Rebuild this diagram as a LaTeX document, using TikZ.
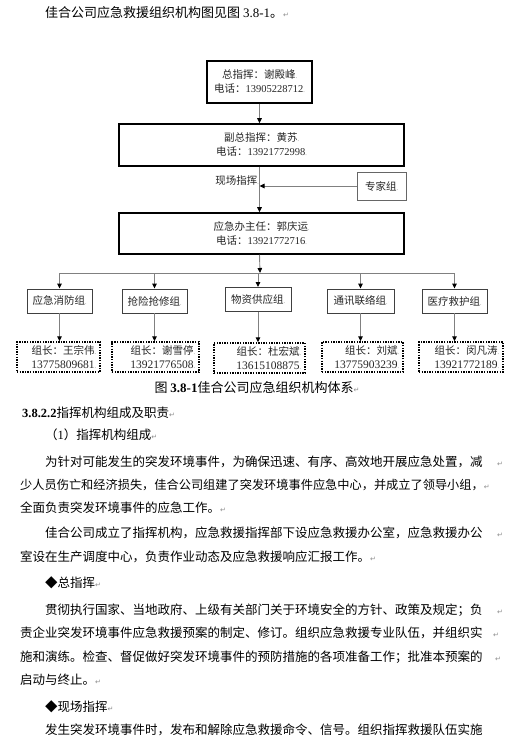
\documentclass[tikz,border=0pt]{standalone}
\usepackage{fontspec}
\setmainfont{Liberation Serif}
\newfontfamily\cjk{Noto Sans CJK SC}
\newfontfamily\djv{DejaVu Sans}
\usetikzlibrary{arrows.meta}
\XeTeXlinebreaklocale "zh"
\XeTeXlinebreakskip=0pt
\newcommand\lnum[1]{{\rmfamily #1}}
\newcommand\rmk{{\djv\color{black!45}\fontsize{7}{7}\selectfont ↵}}
\newcommand\bdot{{\rmfamily\color{black!55}\fontsize{6}{6}\selectfont .}}
\newcommand\jl[2]{\hbox to #1{\XeTeXlinebreakskip=0pt plus 4pt minus 1pt #2}}
\tikzset{
  bigbox/.style={draw=black, line width=1.5pt, inner sep=0pt, align=center,
    text=black!85, font=\cjk\fontsize{10.5}{14}\selectfont},
  grpbox/.style={draw=black!75, line width=0.9pt, inner sep=0pt, minimum height=24pt,
    text=black!85, font=\cjk\fontsize{10.5}{13}\selectfont},
  leadbox/.style={draw=black, line width=1.4pt, dash pattern=on 1.4pt off 1.2pt,
    inner sep=0pt, minimum height=30pt, align=right,
    text=black!85, font=\cjk\fontsize{10.5}{14}\selectfont},
  conn/.style={draw=black!50, line width=0.9pt, -{Triangle[length=5pt,width=4.5pt,color=black]}},
  plain/.style={draw=black!50, line width=0.9pt},
  txt/.style={anchor=west, inner sep=0pt, font=\cjk\fontsize{12.5}{12.5}\selectfont}
}
\begin{document}
\begin{tikzpicture}[x=1pt,y=-1pt]
\useasboundingbox[fill=white] (0,0) rectangle (523,751);

% top sentence
\node[txt, font=\cjk\fontsize{13}{13}\selectfont] (intro) at (45,13) {佳合公司应急救援组织机构图见图 \lnum{3.8-1}。\rmk};

% diagram
\node[bigbox, minimum width=105pt, minimum height=42pt] (zz) at (259.5,82)
  {总指挥：谢殿峰\bdot\\电话：\lnum{13905228712}\bdot};
\node[bigbox, minimum width=285pt, minimum height=42pt] (fz) at (261.5,145)
  {副总指挥：黄苏\bdot\\电话：\lnum{13921772998}\bdot};
\node[inner sep=0pt, font=\cjk\fontsize{10.5}{10.5}\selectfont, text=black!85] (xc) at (237,181) {现场指挥\bdot};
\node[draw=black!60, line width=0.9pt, minimum width=49pt, minimum height=28pt, inner sep=0pt,
  font=\cjk\fontsize{10.5}{10.5}\selectfont, text=black!85] (zj) at (381.5,186) {专家组\bdot};
\node[bigbox, minimum width=285pt, minimum height=41pt] (yj) at (261.5,233.5)
  {应急办主任：郭庆运\bdot\\电话：\lnum{13921772716}\bdot};

\node[grpbox, minimum width=65pt] (g1) at (59.5,301) {应急消防组\bdot};
\node[grpbox, minimum width=65pt] (g2) at (154.5,301) {抢险抢修组\bdot};
\node[grpbox, minimum width=66pt] (g3) at (258,299.5) {物资供应组\bdot};
\node[grpbox, minimum width=67pt] (g4) at (360.5,301) {通讯联络组\bdot};
\node[grpbox, minimum width=65pt] (g5) at (454.5,301) {医疗救护组\bdot};

\node[leadbox, minimum width=83pt, text width=75pt] (l1) at (58.5,357)
  {组长：王宗伟\bdot\\{\fontsize{11.5}{14}\selectfont\lnum{13775809681}}\bdot};
\node[leadbox, minimum width=87pt, text width=79pt] (l2) at (155.5,357)
  {组长：谢雪停\bdot\\{\fontsize{11.5}{14}\selectfont\lnum{13921776508}}\bdot};
\node[leadbox, minimum width=91pt, text width=83pt] (l3) at (259.5,358)
  {组长：杜宏斌\bdot\\{\fontsize{11.5}{14}\selectfont\lnum{13615108875}}\bdot};
\node[leadbox, minimum width=81pt, text width=73pt] (l4) at (362.5,357)
  {组长：刘斌\bdot\\{\fontsize{11.5}{14}\selectfont\lnum{13775903239}}\bdot};
\node[leadbox, minimum width=84pt, text width=76pt] (l5) at (461,357)
  {组长：闵凡涛\bdot\\{\fontsize{11.5}{14}\selectfont\lnum{13921772189}}\bdot};

\coordinate (bus) at (260,273);
\draw[conn] (zz.south) -- (zz.south |- fz.north);
\draw[conn] (fz.south -| zz.south) -- (yj.north -| zz.south);
\draw[conn] (zj.west) -- (zj.west -| zz.south);
\draw[conn] (yj.south -| zz.south) -- (bus);
\draw[plain] (g1.north |- bus) -- (g5.north |- bus);
\foreach \i in {1,...,5}{
  \draw[conn] (g\i.north |- bus) -- (g\i.north);
  \draw[conn] (g\i.south) -- (g\i.south |- l\i.north);
}

% caption
\node[inner sep=0pt, font=\cjk\fontsize{13}{13}\selectfont] (cap) at (257,388)
  {图 {\rmfamily\bfseries 3.8-1}佳合公司应急组织机构体系\rmk};

% body text
\node[txt] (h1) at (22,413) {{\rmfamily\bfseries 3.8.2.2}指挥机构组成及职责\rmk};
\node[txt] (h2) at (45,435) {（\lnum{1}）指挥机构组成\rmk};
\node[txt] (p1) at (45,462) {\jl{452pt}{为针对可能发生的突发环境事件，为确保迅速、有序、高效地开展应急处置，减}\rmk};
\node[txt, font=\cjk\fontsize{12.2}{12.2}\selectfont] (p2) at (20,485) {少人员伤亡和经济损失，佳合公司组建了突发环境事件应急中心，并成立了领导小组，\rmk};
\node[txt] (p3) at (20,508) {全面负责突发环境事件的应急工作。\rmk};
\node[txt] (p4) at (45,533) {\jl{452pt}{佳合公司成立了指挥机构，应急救援指挥部下设应急救援办公室，应急救援办公}\rmk};
\node[txt] (p5) at (20,557) {室设在生产调度中心，负责作业动态及应急救援响应汇报工作。\rmk};
\node[txt] (b1) at (45,583) {◆总指挥\rmk};
\node[txt] (p6) at (45,610) {\jl{452pt}{贯彻执行国家、当地政府、上级有关部门关于环境安全的方针、政策及规定；负}\rmk};
\node[txt] (p7) at (20,633) {\jl{473pt}{责企业突发环境事件应急救援预案的制定、修订。组织应急救援专业队伍，并组织实}\rmk};
\node[txt] (p8) at (20,657) {\jl{475pt}{施和演练。检查、督促做好突发环境事件的预防措施的各项准备工作；批准本预案的}\rmk};
\node[txt] (p9) at (20,680) {启动与终止。\rmk};
\node[txt] (b2) at (45,707) {◆现场指挥\rmk};
\node[txt] (p10) at (45,730) {\jl{462pt}{发生突发环境事件时，发布和解除应急救援命令、信号。组织指挥救援队伍实施}};
\end{tikzpicture}
\end{document}
